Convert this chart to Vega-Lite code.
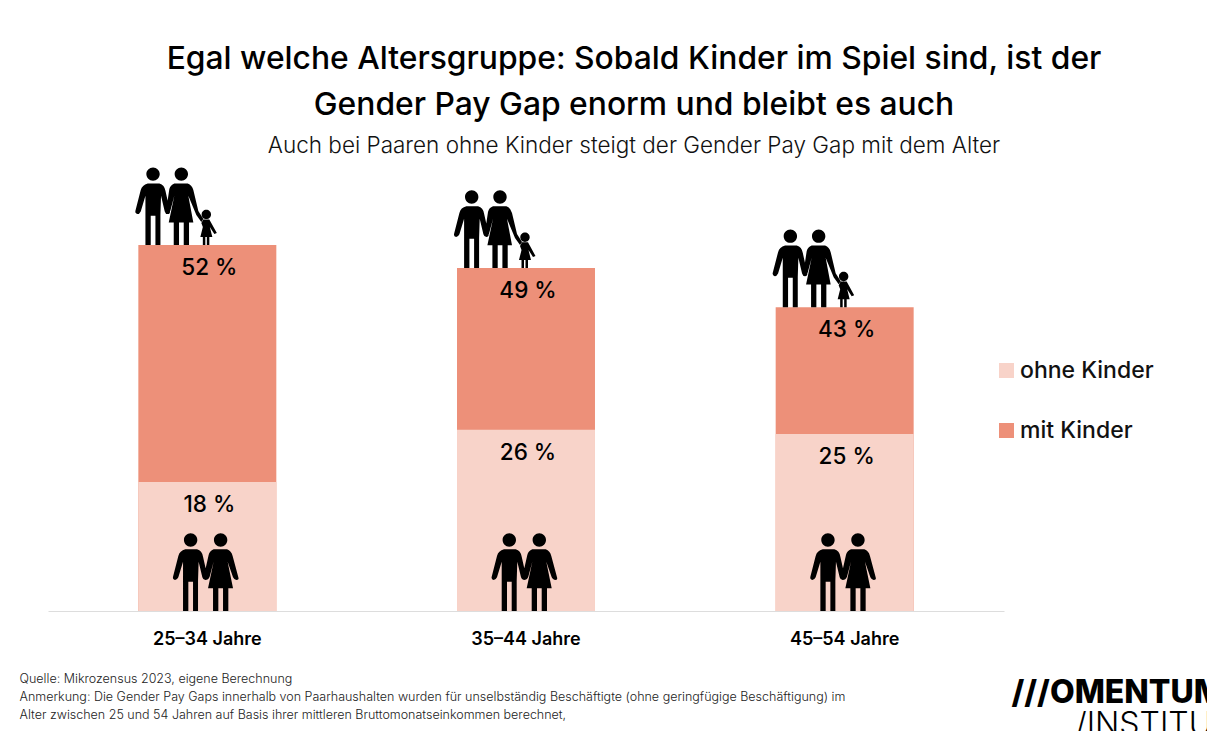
{
"$schema":"https://vega.github.io/schema/vega-lite/v6.json",
"width":956,"height":423,
"autosize":{"type":"none"},
"padding":{"left":48,"top":188,"right":203,"bottom":120},
"background":"white",
"config":{"view":{"stroke":null},"font":"Inter"},
"title":{"text":["Egal welche Altersgruppe: Sobald Kinder im Spiel sind, ist der","Gender Pay Gap enorm und bleibt es auch"],
"subtitle":"Auch bei Paaren ohne Kinder steigt der Gender Pay Gap mit dem Alter",
"anchor":"middle","frame":"group","dx":108,"offset":10,"fontSize":31.8,"fontWeight":500,"lineHeight":46,"color":"#000","subtitleFontSize":22.5,"subtitleFontWeight":300,"subtitleColor":"#111","subtitlePadding":13,"font":"Inter","subtitleFont":"Inter"},
"data":{"values":[
{"gruppe":"25–34 Jahre","typ":"mit Kinder","wert":51.9,"label":"52 %"},
{"gruppe":"35–44 Jahre","typ":"mit Kinder","wert":48.65,"label":"49 %"},
{"gruppe":"45–54 Jahre","typ":"mit Kinder","wert":43.1,"label":"43 %"},
{"gruppe":"25–34 Jahre","typ":"ohne Kinder","wert":18.3,"label":"18 %"},
{"gruppe":"35–44 Jahre","typ":"ohne Kinder","wert":25.7,"label":"26 %"},
{"gruppe":"45–54 Jahre","typ":"ohne Kinder","wert":25.1,"label":"25 %"}
]},
"encoding":{
"x":{"field":"gruppe","type":"nominal","sort":null,"scale":{"paddingInner":0.567,"paddingOuter":0.2835},
"axis":{"labelAngle":0,"labelFontSize":18,"labelFontWeight":600,"labelColor":"#000","labelPadding":19,"ticks":false,"domainColor":"#dddddd","domainWidth":1,
"title":["Quelle: Mikrozensus 2023, eigene Berechnung","Anmerkung: Die Gender Pay Gaps innerhalb von Paarhaushalten wurden für unselbständig Beschäftigte (ohne geringfügige Beschäftigung)  im","Alter zwischen 25 und 54 Jahren auf Basis ihrer mittleren Bruttomonatseinkommen berechnet,"],
"titleAnchor":"start","titleAlign":"left","titleBaseline":"alphabetic","titleX":-29,"titleY":71,"titleFontSize":12.5,"titleFontWeight":300,"titleColor":"#222","titleLineHeight":18}},
"y":{"field":"wert","type":"quantitative","scale":{"domain":[0,60]},"stack":null,"axis":null}
},
"layer":[
{"mark":{"type":"bar"},
"encoding":{
"color":{"field":"typ","type":"nominal","scale":{"domain":["ohne Kinder","mit Kinder"],"range":["#f8d3c9","#ed9079"]},
"legend":{"title":null,"orient":"none","legendX":947,"legendY":171,"symbolType":"square","symbolSize":225,"symbolStrokeWidth":0,"labelFontSize":23,"labelFontWeight":500,"labelColor":"#111","rowPadding":36,"labelOffset":2,"symbolOpacity":1}},
"y":{"field":"wert","type":"quantitative","scale":{"domain":[0,60]},"stack":null,
"axis":{"orient":"right","labels":false,"ticks":false,"domain":false,"grid":false,"title":"///OMENTUM","titleAngle":0,"titleAlign":"left","titleBaseline":"alphabetic","titleX":7,"titleY":514,"titleFontSize":32,"titleFontWeight":800,"titleColor":"#000"}}}},
{"mark":{"type":"text","fontSize":22.5,"fontWeight":500,"color":"#000","dy":23,"dx":2,"baseline":"middle"},
"encoding":{"text":{"field":"label"},
"y":{"field":"wert","type":"quantitative","stack":null,
"axis":{"orient":"left","labels":false,"ticks":false,"domain":false,"grid":false,"title":"/INSTITUT","titleAngle":0,"titleAlign":"left","titleBaseline":"alphabetic","titleX":1027,"titleY":546,"titleFontSize":32,"titleFontWeight":300,"titleColor":"#000"}}}},
{"transform":[{"filter":"datum.typ=='mit Kinder'"}],
"mark":{"type":"point","filled":true,"size":4,"opacity":1,"color":"#000","strokeWidth":0,"xOffset":1,
"shape":"M-62,-71a6.7,6.7 0 1,0 13.4,0a6.7,6.7 0 1,0 -13.4,0ZM-33.7,-71a6.7,6.7 0 1,0 13.4,0a6.7,6.7 0 1,0 -13.4,0ZM-6.7,-30.7a4.7,4.7 0 1,0 9.4,0a4.7,4.7 0 1,0 -9.4,0ZM-60.6,-61.7L-48.9,-61.7Q-43.9,-60.3 -42.9,-54.3L-38.3,-33.7Q-38.3,-31 -40.6,-31Q-42.9,-31 -43.6,-33.7L-47.3,-49.3L-47.9,-30L-47.9,0L-52.9,0L-52.9,-29.3L-57.6,-29.3L-57.6,0L-62.9,0L-62.9,-49.3L-67.6,-33.7Q-68.9,-31 -70.9,-31Q-73.6,-31.7 -72.9,-34.3L-67.6,-55Q-66.3,-60.3 -60.6,-61.7ZM-34,-61.7L-20.6,-61.7Q-16.3,-60.3 -15,-55L-10,-34L-5,-26L-7,-23L-12,-30L-20,-49.3L-15,-22.7L-19.3,-22.7L-19.3,0L-24.6,0L-24.6,-22.7L-29.3,-22.7L-29.3,0L-34.6,0L-34.6,-22.7L-39.6,-22.7L-34,-49.3L-38,-34.3L-40.6,-31L-42.3,-33.7L-39,-56Q-38,-60.3 -34,-61.7ZM-5,-25.7L1,-25.7L8.5,-12L6,-11L1.5,-18L4,-8L1,-8L1,0L-1.5,0L-1.5,-8L-3,-8L-3,0L-5.5,0L-5.5,-8L-8,-8L-5.5,-18L-7,-22Z"}},
{"transform":[{"filter":"datum.typ=='ohne Kinder'"}],
"mark":{"type":"point","filled":true,"size":4,"opacity":1,"color":"#000","strokeWidth":0,"xOffset":1,
"shape":"M-24.4,-71a6.7,6.7 0 1,0 13.4,0a6.7,6.7 0 1,0 -13.4,0ZM5.6,-71a6.7,6.7 0 1,0 13.4,0a6.7,6.7 0 1,0 -13.4,0ZM-23,-61.7L-11.3,-61.7Q-6.3,-60.3 -5.3,-54.3L-0.7,-33.7Q-0.7,-31 -3,-31Q-5.3,-31 -6,-33.7L-9.7,-49.3L-10.3,-30L-10.3,0L-15.3,0L-15.3,-29.3L-20,-29.3L-20,0L-25.3,0L-25.3,-49.3L-30,-33.7Q-31.3,-31 -33.3,-31Q-36,-31.7 -35.3,-34.3L-30,-55Q-28.7,-60.3 -23,-61.7ZM5.3,-61.7L18.7,-61.7Q23,-60.3 24.3,-55L30,-33.7Q31,-31 28,-31Q26,-31 24.7,-33.7L19.3,-49.3L24.7,-22.7L20,-22.7L20,0L14.7,0L14.7,-22.7L10,-22.7L10,0L4.7,0L4.7,-22.7L-0.3,-22.7L5.3,-49.3L1.3,-34.3Q0,-31 -3,-31L-4.7,-33.7L0.3,-56Q1.3,-60.3 5.3,-61.7Z"},
"encoding":{"y":{"datum":0}}}
],
"resolve":{"axis":{"y":"independent"}}
}
